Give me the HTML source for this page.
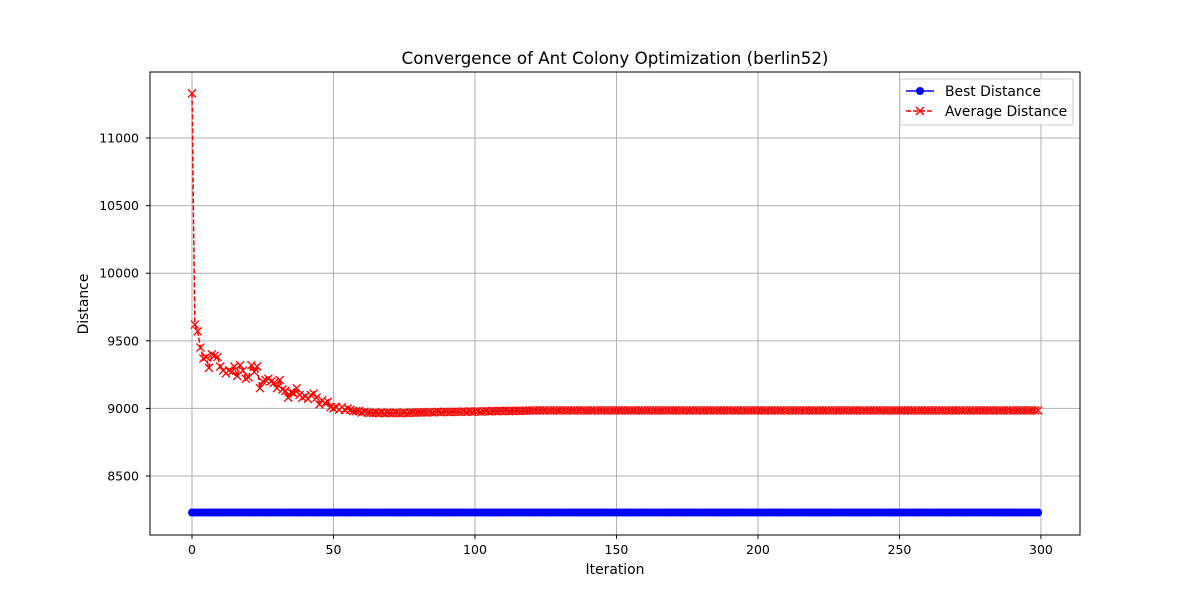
<!DOCTYPE html>
<html><head><meta charset="utf-8"><style>
body{margin:0;background:#fff;}
svg text{font-family:"DejaVu Sans","Liberation Sans",sans-serif;}
</style></head><body>
<svg id="chart" width="1200" height="600" xmlns="http://www.w3.org/2000/svg">
<rect width="1200" height="600" fill="#fff"/>
<g id="grid"></g>
<g id="series"></g>
<rect x="150" y="72" width="930" height="463" fill="none" stroke="#000" stroke-width="1"/>
<g id="axes"></g>
<text x="615" y="64" text-anchor="middle" font-size="16.7">Convergence of Ant Colony Optimization (berlin52)</text>
<text x="615" y="574" text-anchor="middle" font-size="13.9">Iteration</text>
<text x="88" y="304" text-anchor="middle" font-size="13.9" transform="rotate(-90 88 304)">Distance</text>
<g>
<rect x="900" y="79" width="173" height="46" fill="#fff" fill-opacity="0.8" stroke="#ccc" rx="2"/>
<g>
<line x1="906" y1="91" x2="934" y2="91" stroke="#0000ff" stroke-width="1.5"/>
<circle cx="920" cy="91" r="4" fill="#0000ff"/>
<text x="945" y="96" font-size="13.9">Best Distance</text></g>
<g>
<line x1="906" y1="111" x2="934" y2="111" stroke="#ff0000" stroke-width="1.5" stroke-dasharray="5,2"/>
<path d="M916,107 L924,115 M916,115 L924,107" stroke="#ff0000" stroke-width="1.5"/>
<text x="945" y="116" font-size="13.9">Average Distance</text></g>
</g>
</svg>
<script>
const xTicks=[0,50,100,150,200,250,300];
const yTicks=[8500,9000,9500,10000,10500,11000];
const avgHead=[11330,9620,9570,9450,9370,9380,9300,9400,9390,9380,9310,9280,9260,9280,9270,9310,9240,9320,9280,9220,9230,9320,9270,9310,9150,9200,9210,9220,9200,9190,9150,9210,9140,9130,9080,9120,9110,9150,9100,9080,9090,9070,9100,9110,9080,9030,9060,9040,9050,9010,9000,9010,8990,9010,8990,9000,8990,8980,8980,8980,8970,8975,8970,8968,8965,8968,8965,8970,8965,8968,8965,8965,8968,8965,8965,8968,8965,8968,8970,8968,8970,8970,8972,8970,8972,8970,8972,8975,8972,8975,8975,8972,8975,8975,8975,8975,8978,8975,8978,8975,8978,8978,8975,8978,8980,8978,8980,8980,8980,8982,8980,8982,8980,8982,8982,8983,8982,8983,8983,8984];
const avgTail=8985;
const bestVal=8230;
const N=300;
const X0=150,X1=1080,Y0=72,Y1=535;
const xMin=-14.84,xMax=313.8,yMin=8064,yMax=11488;
const sx=v=>X0+(v-xMin)/(xMax-xMin)*(X1-X0);
const sy=v=>Y1-(v-yMin)/(yMax-yMin)*(Y1-Y0);
const NS="http://www.w3.org/2000/svg";
function mk(t,a,p){const e=document.createElementNS(NS,t);for(const k in a)e.setAttribute(k,a[k]);p.appendChild(e);return e;}
const grid=document.getElementById('grid'),axes=document.getElementById('axes'),ser=document.getElementById('series');
xTicks.forEach(t=>{const x=sx(t);
const g=mk('line',{x1:x,x2:x,y1:Y0,y2:Y1,stroke:'#b0b0b0','stroke-width':1},grid);

mk('line',{x1:x,x2:x,y1:Y1,y2:Y1+4,stroke:'#000'},axes);
const l=mk('text',{x:x,y:Y1+19,'text-anchor':'middle','font-size':12.5},axes);l.textContent=t;
});
yTicks.forEach(t=>{const y=sy(t);
const g=mk('line',{x1:X0,x2:X1,y1:y,y2:y,stroke:'#b0b0b0','stroke-width':1},grid);

mk('line',{x1:X0-4,x2:X0,y1:y,y2:y,stroke:'#000'},axes);
const l=mk('text',{x:X0-11,y:y+4.5,'text-anchor':'end','font-size':12.5},axes);l.textContent=t;
});
const avg=[],best=[];
for(let i=0;i<N;i++){avg.push(i<avgHead.length?avgHead[i]:avgTail);best.push(bestVal);}
let pb='',pa='';
best.forEach((v,i)=>{pb+=(i?'L':'M')+sx(i)+','+sy(v);});
avg.forEach((v,i)=>{pa+=(i?'L':'M')+sx(i)+','+sy(v);});
const lb=mk('path',{d:pb,stroke:'#0000ff','stroke-width':1.5,fill:'none'},ser);

best.forEach((v,i)=>{const c=mk('circle',{cx:sx(i),cy:sy(v),r:4,fill:'#0000ff'},ser);
});
const la=mk('path',{d:pa,stroke:'#ff0000','stroke-width':1.5,fill:'none','stroke-dasharray':'5,2'},ser);

avg.forEach((v,i)=>{const x=sx(i),y=sy(v);
const m=mk('path',{d:`M${x-4},${y-4}L${x+4},${y+4}M${x-4},${y+4}L${x+4},${y-4}`,stroke:'#ff0000','stroke-width':1.3},ser);
});
</script>
</body></html>
